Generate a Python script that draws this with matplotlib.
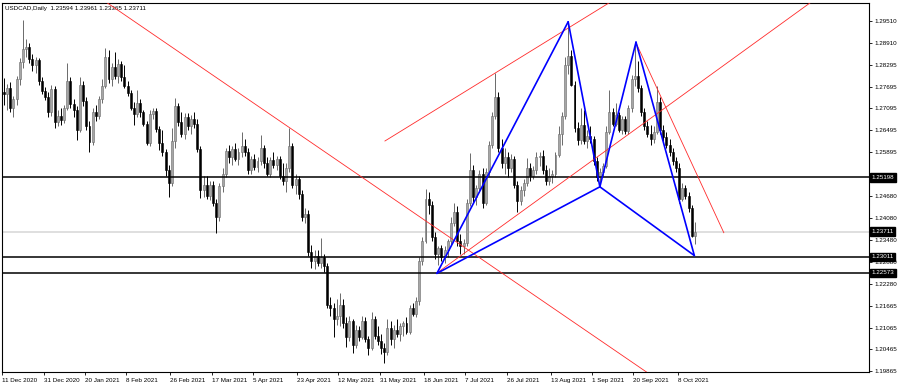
import numpy as np
import matplotlib
matplotlib.use("Agg")
import matplotlib.pyplot as plt
import matplotlib.transforms as mtransforms

plt.rcParams['font.family'] = ['Liberation Sans', 'DejaVu Sans']

title_text = "USDCAD,Daily  1.23594 1.23961 1.23365 1.23711"

# daily bars, 11 Dec 2020 .. 15 Oct 2021
opens = [
    1.2755, 1.2748, 1.2765, 1.2712, 1.2735, 1.2790, 1.2838, 1.2872, 1.2880, 1.2845,
    1.2830, 1.2842, 1.2785, 1.2758, 1.2742, 1.2700, 1.2762, 1.2672, 1.2690, 1.2678,
    1.2712, 1.2785, 1.2722, 1.2705, 1.2650, 1.2775, 1.2730, 1.2660, 1.2618, 1.2700,
    1.2690, 1.2735, 1.2770, 1.2850, 1.2790, 1.2825, 1.2800, 1.2832, 1.2795, 1.2770,
    1.2752, 1.2712, 1.2695, 1.2725, 1.2700, 1.2668, 1.2615, 1.2695, 1.2702, 1.2652,
    1.2615, 1.2590, 1.2540, 1.2505, 1.2620, 1.2715, 1.2672, 1.2640, 1.2685, 1.2660,
    1.2680, 1.2668, 1.2598, 1.2485, 1.2500, 1.2470, 1.2500, 1.2450, 1.2410, 1.2495,
    1.2530, 1.2592, 1.2575, 1.2598, 1.2570, 1.2590, 1.2605, 1.2590, 1.2540, 1.2570,
    1.2548, 1.2565, 1.2600, 1.2560, 1.2530, 1.2568, 1.2555, 1.2570, 1.2525, 1.2510,
    1.2545, 1.2605, 1.2500, 1.2515, 1.2475, 1.2410, 1.2420, 1.2315, 1.2290, 1.2305,
    1.2285, 1.2300, 1.2275, 1.2170, 1.2160, 1.2130, 1.2140, 1.2170, 1.2120, 1.2080,
    1.2125, 1.2060, 1.2100, 1.2082, 1.2125, 1.2075, 1.2050, 1.2130, 1.2085, 1.2070,
    1.2050, 1.2040, 1.2105, 1.2075, 1.2100, 1.2090, 1.2110, 1.2120, 1.2095, 1.2160,
    1.2145, 1.2180, 1.2290, 1.2345, 1.2460, 1.2445, 1.2355, 1.2310, 1.2325, 1.2300,
    1.2320, 1.2345, 1.2395, 1.2425, 1.2345, 1.2330, 1.2340, 1.2450, 1.2540, 1.2465,
    1.2490, 1.2530, 1.2450, 1.2535, 1.2610, 1.2690, 1.2740, 1.2600, 1.2560, 1.2575,
    1.2545, 1.2570, 1.2500, 1.2455, 1.2485, 1.2505, 1.2545, 1.2525, 1.2540, 1.2575,
    1.2580, 1.2540, 1.2510, 1.2525, 1.2530, 1.2582, 1.2640, 1.2690, 1.2830, 1.2855,
    1.2775, 1.2655, 1.2622, 1.2665, 1.2620, 1.2635, 1.2625, 1.2565, 1.2520, 1.2535,
    1.2550, 1.2645, 1.2700, 1.2668, 1.2692, 1.2650, 1.2680, 1.2648, 1.2710, 1.2792,
    1.2800, 1.2765, 1.2700, 1.2660, 1.2640, 1.2625, 1.2645, 1.2728, 1.2650, 1.2630,
    1.2610, 1.2590, 1.2565, 1.2545, 1.2460, 1.2490, 1.2470, 1.2435, 1.2359,
]
highs = [
    1.2793, 1.2778, 1.2782, 1.2745, 1.2800, 1.2848, 1.2953, 1.2900, 1.2890, 1.2860,
    1.2850, 1.2848, 1.2795, 1.2768, 1.2755, 1.2774, 1.2770, 1.2705, 1.2710, 1.2720,
    1.2835, 1.2795, 1.2735, 1.2715, 1.2797, 1.2785, 1.2742, 1.2675, 1.2712, 1.2720,
    1.2745, 1.2790, 1.2876, 1.2870, 1.2835, 1.2866, 1.2845, 1.2840, 1.2830, 1.2785,
    1.2760, 1.2728, 1.2760, 1.2735, 1.2705, 1.2675, 1.2705, 1.2710, 1.2712, 1.2660,
    1.2650, 1.2598, 1.2555, 1.2655, 1.2737, 1.2725, 1.2700, 1.2696, 1.2696, 1.2692,
    1.2700, 1.2680, 1.2605, 1.2525, 1.2525, 1.2510, 1.2510, 1.2460, 1.2505, 1.2545,
    1.2600, 1.2610, 1.2605, 1.2615, 1.2600, 1.2646, 1.2625, 1.2600, 1.2580, 1.2585,
    1.2575, 1.2637, 1.2610, 1.2575, 1.2575, 1.2590, 1.2580, 1.2578, 1.2560, 1.2560,
    1.2655, 1.2615, 1.2530, 1.2525, 1.2485, 1.2435, 1.2430, 1.2335, 1.2320, 1.2320,
    1.2353, 1.2310, 1.2285, 1.2190, 1.2175, 1.2185, 1.2201, 1.2185, 1.2135, 1.2140,
    1.2130, 1.2115, 1.2110, 1.2140, 1.2135, 1.2085, 1.2150, 1.2140, 1.2110, 1.2090,
    1.2065, 1.2130, 1.2125, 1.2115, 1.2130, 1.2120, 1.2125, 1.2135, 1.2170, 1.2175,
    1.2190, 1.2300, 1.2355, 1.2487, 1.2481, 1.2455, 1.2370, 1.2330, 1.2335, 1.2330,
    1.2350, 1.2412, 1.2449, 1.2440, 1.2365, 1.2350, 1.2460, 1.2586, 1.2555, 1.2500,
    1.2540, 1.2545, 1.2545, 1.2620, 1.2700, 1.2806, 1.2755, 1.2625, 1.2600, 1.2590,
    1.2585, 1.2580, 1.2510, 1.2495, 1.2515, 1.2572, 1.2560, 1.2550, 1.2590, 1.2590,
    1.2595, 1.2555, 1.2545, 1.2540, 1.2590, 1.2660, 1.2700, 1.2850, 1.2948, 1.2870,
    1.2785, 1.2672, 1.2710, 1.2705, 1.2650, 1.2660, 1.2635, 1.2575, 1.2545, 1.2560,
    1.2660, 1.2760, 1.2712, 1.2725, 1.2700, 1.2690, 1.2688, 1.2720, 1.2802, 1.2893,
    1.2840, 1.2775, 1.2712, 1.2675, 1.2665, 1.2660, 1.2772, 1.2740, 1.2665, 1.2645,
    1.2625, 1.2600, 1.2575, 1.2560, 1.2504, 1.2500, 1.2480, 1.2445, 1.2396,
]
lows = [
    1.2720, 1.2705, 1.2700, 1.2686, 1.2720, 1.2775, 1.2820, 1.2850, 1.2835, 1.2812,
    1.2808, 1.2775, 1.2750, 1.2733, 1.2686, 1.2690, 1.2655, 1.2660, 1.2665, 1.2670,
    1.2705, 1.2710, 1.2685, 1.2623, 1.2645, 1.2715, 1.2650, 1.2590, 1.2610, 1.2675,
    1.2680, 1.2725, 1.2765, 1.2780, 1.2770, 1.2790, 1.2780, 1.2785, 1.2765, 1.2745,
    1.2705, 1.2664, 1.2685, 1.2685, 1.2660, 1.2609, 1.2605, 1.2680, 1.2645, 1.2595,
    1.2580, 1.2525, 1.2467, 1.2495, 1.2600, 1.2660, 1.2630, 1.2625, 1.2650, 1.2640,
    1.2655, 1.2590, 1.2462, 1.2465, 1.2460, 1.2458, 1.2440, 1.2366, 1.2400, 1.2480,
    1.2520, 1.2560, 1.2555, 1.2565, 1.2555, 1.2575, 1.2580, 1.2530, 1.2530, 1.2540,
    1.2535, 1.2555, 1.2545, 1.2525, 1.2520, 1.2545, 1.2540, 1.2515, 1.2500, 1.2480,
    1.2535, 1.2490, 1.2475, 1.2460, 1.2400, 1.2395, 1.2305, 1.2270, 1.2268, 1.2275,
    1.2270, 1.2260, 1.2160, 1.2140, 1.2082, 1.2115, 1.2110, 1.2105, 1.2054, 1.2070,
    1.2036, 1.2050, 1.2070, 1.2075, 1.2068, 1.2030, 1.2045, 1.2075, 1.2060, 1.2035,
    1.2008, 1.2030, 1.2060, 1.2050, 1.2080, 1.2070, 1.2085, 1.2090, 1.2090, 1.2140,
    1.2135, 1.2170, 1.2280, 1.2340, 1.2420, 1.2345, 1.2295, 1.2280, 1.2290, 1.2285,
    1.2300, 1.2335, 1.2385, 1.2330, 1.2310, 1.2310, 1.2330, 1.2440, 1.2450, 1.2445,
    1.2480, 1.2435, 1.2445, 1.2525, 1.2600, 1.2680, 1.2590, 1.2545, 1.2530, 1.2520,
    1.2535, 1.2490, 1.2426, 1.2445, 1.2470, 1.2495, 1.2510, 1.2515, 1.2530, 1.2550,
    1.2530, 1.2500, 1.2500, 1.2505, 1.2520, 1.2575, 1.2610, 1.2680, 1.2805, 1.2770,
    1.2645, 1.2610, 1.2612, 1.2612, 1.2600, 1.2615, 1.2555, 1.2510, 1.2494, 1.2525,
    1.2545, 1.2640, 1.2660, 1.2660, 1.2645, 1.2640, 1.2640, 1.2640, 1.2700, 1.2770,
    1.2755, 1.2690, 1.2650, 1.2630, 1.2609, 1.2615, 1.2640, 1.2640, 1.2620, 1.2600,
    1.2580, 1.2555, 1.2535, 1.2450, 1.2455, 1.2460, 1.2425, 1.2355, 1.2336,
]
closes = [
    1.2748, 1.2765, 1.2712, 1.2735, 1.2790, 1.2838, 1.2872, 1.2880, 1.2845, 1.2830,
    1.2842, 1.2785, 1.2758, 1.2742, 1.2700, 1.2762, 1.2672, 1.2690, 1.2678, 1.2712,
    1.2785, 1.2722, 1.2705, 1.2650, 1.2775, 1.2730, 1.2660, 1.2618, 1.2700, 1.2690,
    1.2735, 1.2770, 1.2850, 1.2790, 1.2825, 1.2800, 1.2832, 1.2795, 1.2770, 1.2752,
    1.2712, 1.2695, 1.2725, 1.2700, 1.2668, 1.2615, 1.2695, 1.2702, 1.2652, 1.2615,
    1.2590, 1.2540, 1.2505, 1.2620, 1.2715, 1.2672, 1.2640, 1.2685, 1.2660, 1.2680,
    1.2668, 1.2598, 1.2485, 1.2500, 1.2470, 1.2500, 1.2450, 1.2410, 1.2495, 1.2530,
    1.2592, 1.2575, 1.2598, 1.2570, 1.2590, 1.2605, 1.2590, 1.2540, 1.2570, 1.2548,
    1.2565, 1.2600, 1.2560, 1.2530, 1.2568, 1.2555, 1.2570, 1.2525, 1.2510, 1.2545,
    1.2605, 1.2500, 1.2515, 1.2475, 1.2410, 1.2420, 1.2315, 1.2290, 1.2305, 1.2285,
    1.2300, 1.2275, 1.2170, 1.2160, 1.2130, 1.2140, 1.2170, 1.2120, 1.2080, 1.2125,
    1.2060, 1.2100, 1.2082, 1.2125, 1.2075, 1.2050, 1.2130, 1.2085, 1.2070, 1.2050,
    1.2040, 1.2105, 1.2075, 1.2100, 1.2090, 1.2110, 1.2120, 1.2095, 1.2160, 1.2145,
    1.2180, 1.2290, 1.2345, 1.2460, 1.2445, 1.2355, 1.2310, 1.2325, 1.2300, 1.2320,
    1.2345, 1.2395, 1.2425, 1.2345, 1.2330, 1.2340, 1.2450, 1.2540, 1.2465, 1.2490,
    1.2530, 1.2450, 1.2535, 1.2610, 1.2690, 1.2740, 1.2600, 1.2560, 1.2575, 1.2545,
    1.2570, 1.2500, 1.2455, 1.2485, 1.2505, 1.2545, 1.2525, 1.2540, 1.2575, 1.2580,
    1.2540, 1.2510, 1.2525, 1.2530, 1.2582, 1.2640, 1.2690, 1.2830, 1.2855, 1.2775,
    1.2655, 1.2622, 1.2665, 1.2620, 1.2635, 1.2625, 1.2565, 1.2520, 1.2535, 1.2550,
    1.2645, 1.2700, 1.2668, 1.2692, 1.2650, 1.2680, 1.2648, 1.2710, 1.2792, 1.2800,
    1.2765, 1.2700, 1.2660, 1.2640, 1.2625, 1.2645, 1.2728, 1.2650, 1.2630, 1.2610,
    1.2590, 1.2565, 1.2545, 1.2460, 1.2490, 1.2470, 1.2435, 1.2359, 1.2371,
]

# bottom time axis
date_bars = [0, 13, 26, 39, 53, 66, 79, 93, 106, 119, 133, 146, 159, 173, 186, 199, 213]
date_labels = ["11 Dec 2020", "31 Dec 2020", "20 Jan 2021", "8 Feb 2021", "26 Feb 2021",
               "17 Mar 2021", "5 Apr 2021", "23 Apr 2021", "12 May 2021", "31 May 2021",
               "18 Jun 2021", "7 Jul 2021", "26 Jul 2021", "13 Aug 2021", "1 Sep 2021",
               "20 Sep 2021", "8 Oct 2021"]

# right price scale (the label under the 1.25198 marker is hidden)
price_ticks = [1.29510, 1.28910, 1.28295, 1.27695, 1.27095, 1.26495, 1.25895,
               1.24680, 1.24080, 1.23480, 1.22880, 1.22280, 1.21665, 1.21065, 1.20465,
               1.19865]

levels = [1.25198, 1.23011, 1.22573]
current_price = 1.23711

# harmonic pattern X, A, B, C, D  (bar index, price)
pattern_bars = [136.6, 178.0, 188.0, 199.4, 217.8]
pattern_prices = [1.2256, 1.2948, 1.2494, 1.2892, 1.2305]

# red trend lines: (bar0, price0, bar1, price1)
trend_lines = [
    (32.6, 1.30000, 202.7, 1.19846),
    (120.2, 1.26201, 190.9, 1.30000),
    (136.6, 1.22569, 254.3, 1.30000),
    (199.4, 1.28900, 227.1, 1.23678),
]

o = np.array(opens)
h = np.array(highs)
l = np.array(lows)
c = np.array(closes)
x = np.arange(len(c))

fig = plt.figure(figsize=(9, 3.86), dpi=100)
ax = fig.add_axes([2 / 900, 14 / 386, 867 / 900, 369 / 386])

# candles
up = c >= o
dn = ~up
body_lo = np.minimum(o, c)
body_h = np.maximum(np.abs(c - o), 0.00006)

ax.vlines(x[up], l[up], h[up], color='#6a6a6a', lw=0.7, zorder=2)
ax.vlines(x[dn], l[dn], h[dn], color='black', lw=0.7, zorder=2)
ax.bar(x[up], body_h[up], bottom=body_lo[up], width=0.62, color='#a6a6a6',
       edgecolor='#6a6a6a', linewidth=0.4, zorder=3)
ax.bar(x[dn], body_h[dn], bottom=body_lo[dn], width=0.62, color='black',
       edgecolor='black', linewidth=0.4, zorder=3)

# horizontal levels
ax.axhline(current_price, color='#d9d9d9', lw=1.2, zorder=1)
for lv in levels:
    ax.axhline(lv, color='black', lw=1.1, zorder=4)

# trend lines
for b0, p0, b1, p1 in trend_lines:
    ax.plot([b0, b1], [p0, p1], color='#ff2a2a', lw=0.6, zorder=4)

# XABCD pattern
X, A, B, C, D = range(5)
for i, j in [(X, A), (A, B), (B, C), (C, D), (X, B), (B, D)]:
    ax.plot([pattern_bars[i], pattern_bars[j]], [pattern_prices[i], pattern_prices[j]],
            color='#0000ff', lw=1.2, zorder=5, solid_capstyle='round')

ax.set_xlim(-0.6, 272.9)
ax.set_ylim(1.19846, 1.29997)

ax.yaxis.tick_right()
ax.set_yticks(price_ticks)
ax.set_yticklabels([f"{p:.5f}" for p in price_ticks])
ax.tick_params(axis='y', direction='out', length=2.5, width=0.6, pad=1.5,
               labelsize=4.5, colors='black')

ax.set_xticks([b - 0.45 for b in date_bars])
ax.set_xticklabels(date_labels, ha='left')
ax.tick_params(axis='x', direction='out', length=2.5, width=0.6, pad=1.5,
               labelsize=4.5)

for s in ax.spines.values():
    s.set_color('black')
    s.set_linewidth(0.8)

# price labels on the scale
trans = mtransforms.blended_transform_factory(ax.transAxes, ax.transData)
for lv in levels + [current_price]:
    ax.text(1.003, lv, f"{lv:.5f}", transform=trans, ha='left', va='center',
            fontsize=4.5, color='white', clip_on=False, zorder=10,
            bbox=dict(boxstyle='square,pad=0.25', fc='black', ec='black'))

ax.text(0.003, 0.992, title_text, transform=ax.transAxes, ha='left', va='top',
        fontsize=4.5, color='black')

fig.savefig('out.png', dpi=100)
